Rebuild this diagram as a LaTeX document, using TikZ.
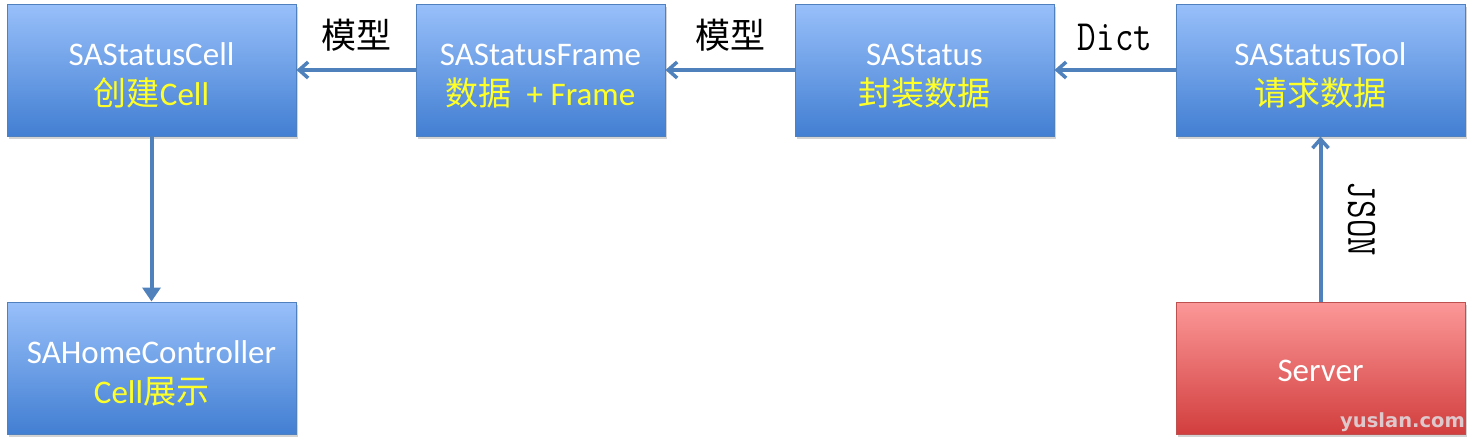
\documentclass[tikz,border=0pt]{standalone}
\usepackage{fontspec}
\setmainfont{Carlito}
\newfontfamily\cjk{Noto Sans CJK SC}
\newfontfamily\wmfont{DejaVu Sans}
\usetikzlibrary{arrows.meta,shadows}
\definecolor{boxtop}{RGB}{152,192,250}
\definecolor{boxbot}{RGB}{66,126,210}
\definecolor{boxline}{RGB}{80,128,190}
\definecolor{redtop}{RGB}{252,152,152}
\definecolor{redbot}{RGB}{210,62,62}
\definecolor{redline}{RGB}{190,80,80}
\definecolor{arrowc}{RGB}{79,129,189}
\definecolor{ytext}{RGB}{255,255,40}
\definecolor{wmc}{RGB}{222,200,204}
\tikzset{
  bluebox/.style={draw=boxline, line width=1pt, top color=boxtop, bottom color=boxbot,
    minimum height=132pt, align=center, text=white,
    font=\fontsize{33}{40}\selectfont,
    drop shadow={shadow xshift=2pt, shadow yshift=-3pt, opacity=0.35}},
  redbox/.style={bluebox, draw=redline, top color=redtop, bottom color=redbot},
  conn/.style={draw=arrowc, line width=4pt},
  openhead/.style={-{Straight Barb[length=9pt,width=16pt,line width=3.5pt]}},
  filledhead/.style={-{Triangle[length=14pt,width=18pt]}},
  lbl/.style={font=\cjk\fontsize{35}{40}\selectfont},
  mono/.style={font=\ttfamily\fontsize{36}{40}\selectfont}
}
\newcommand{\yl}[1]{\textcolor{ytext}{#1}}
\newcommand{\tl}{\rule{0pt}{33pt}}
\newcommand{\tallmono}[1]{\scalebox{1}[1.2]{#1}}
\begin{document}
\begin{tikzpicture}[x=1pt,y=-1pt]
\useasboundingbox (0,0) rectangle (1474,445);
\node[bluebox, minimum width=289pt] (cell) at (151.5,70) {\tl SAStatusCell\\\yl{{\cjk 创建}Cell}};
\node[bluebox, minimum width=249pt] (frame) at (540.5,70) {\tl SAStatusFrame\\\yl{{\cjk 数据}\ \ + Frame}};
\node[bluebox, minimum width=259pt] (status) at (924.5,70) {\tl SAStatus\\\yl{\cjk 封装数据}};
\node[bluebox, minimum width=289pt] (tool) at (1320.5,70) {\tl SAStatusTool\\\yl{\cjk 请求数据}};
\node[bluebox, minimum width=289pt] (home) at (151.5,368) {\tl SAHomeController\\\yl{Cell{\cjk 展示}}};
\node[redbox, minimum width=289pt] (server) at (1320.5,368) {\rule{0pt}{28pt}Server};
\node[font=\wmfont\bfseries\fontsize{19.5}{22}\selectfont, text=wmc, anchor=south east, inner sep=2pt] (wm) at (1467,434) {yuslan.com};

\draw[conn, openhead] (frame.west) -- node[lbl, above=13pt] (l1) {模型} (cell.east);
\draw[conn, openhead] (status.west) -- node[lbl, above=13pt] (l2) {模型} (frame.east);
\draw[conn, openhead] (tool.west) -- node[mono, above=14pt] (l3) {\tallmono{Dict}} (status.east);
\draw[conn, filledhead] (cell.south) -- (home.north);
\draw[conn, openhead] (server.north) -- node[mono, right=22pt, rotate=-90, anchor=south] (l4) {\tallmono{JSON}} (tool.south);
\end{tikzpicture}
\end{document}
